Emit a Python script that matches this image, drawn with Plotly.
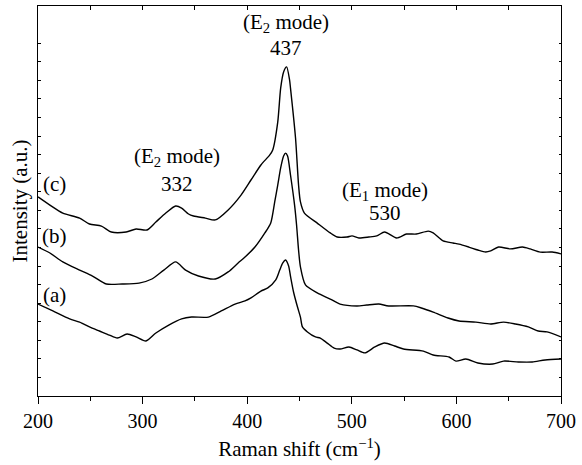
import plotly.graph_objects as go

# Raman shift (cm^-1) and intensity (a.u.) for the three spectra
shift_c = [200, 211.4, 223.7, 239.8, 249.2, 260.6, 270.1, 284.3, 293.8, 304.2, 312.7, 322.2,
           331.6, 337.3, 343.9, 348.7, 360.0, 369.5, 381.8, 394.1, 403.6, 413.1, 421.6, 424.4,
           429.2, 432.0, 434.8, 437.7, 440.5, 441.4, 446.2, 449.1, 450.9, 454.7, 467.0, 479.4,
           486.0, 495.5, 500.2, 506.8, 516.3, 523.9, 531.4, 542.8, 552.3, 561.7, 573.1, 577.8,
           587.3, 596.8, 602.5, 611.9, 620.5, 628.0, 632.8, 640.3, 651.7, 663.1, 670.6, 680.1,
           691.5, 700]
int_c = [10.72, 10.28, 9.85, 9.58, 9.26, 9.15, 8.83, 8.83, 8.99, 8.94, 9.37, 9.85,
         10.23, 10.12, 9.80, 9.69, 9.58, 9.48, 10.02, 10.82, 11.63, 12.44, 12.98, 13.25,
         14.75, 16.58, 17.45, 17.72, 17.02, 16.58, 13.89, 11.36, 10.45, 9.85, 9.31, 8.78,
         8.56, 8.56, 8.62, 8.51, 8.56, 8.62, 8.83, 8.51, 8.72, 8.72, 8.88, 8.78,
         8.35, 8.24, 8.18, 8.02, 7.86, 7.75, 7.81, 8.02, 7.92, 8.02, 7.92, 7.75,
         7.75, 7.65]

shift_b = [200, 211.4, 223.7, 239.8, 252.1, 265.3, 280.5, 296.6, 308.9, 320.3, 331.6, 341.1,
           353.4, 369.5, 381.8, 391.3, 397.9, 407.4, 416.9, 422.5, 426.3, 429.2, 432.0, 434.8,
           436.7, 438.6, 441.4, 445.3, 447.2, 449.1, 450.9, 455.7, 467.0, 479.4, 488.8, 504.9,
           514.4, 525.8, 535.2, 558.9, 566.5, 577.8, 592.0, 602.5, 618.6, 632.8, 645.1, 656.4,
           668.8, 678.2, 686.7, 700]
int_b = [8.02, 7.70, 7.22, 6.78, 6.46, 6.03, 6.03, 6.08, 6.30, 6.78, 7.22, 6.78,
         6.46, 6.30, 6.68, 7.16, 7.48, 8.02, 8.78, 9.32, 10.45, 11.36, 12.28, 12.92,
         13.08, 12.92, 11.90, 10.28, 9.21, 7.86, 6.95, 5.98, 5.55, 5.22, 4.95, 4.85,
         4.90, 4.95, 4.85, 4.85, 4.74, 4.52, 4.20, 4.04, 3.98, 3.88, 3.98, 3.88,
         3.72, 3.50, 3.45, 3.18]

shift_a = [200, 214.2, 230.3, 239.8, 249.2, 258.7, 268.2, 275.8, 285.2, 293.8, 303.2, 312.7,
           325.0, 337.3, 346.8, 362.9, 375.2, 388.4, 397.9, 403.6, 413.1, 419.7, 427.3, 431.1,
           433.9, 436.7, 439.6, 441.5, 444.3, 448.1, 450.9, 452.8, 457.6, 465.2, 469.9, 476.5,
           483.1, 488.8, 497.3, 504.9, 512.5, 522.0, 531.4, 540.9, 549.4, 568.4, 577.8, 593.0,
           599.6, 609.1, 620.5, 634.7, 645.1, 659.3, 672.5, 684.8, 700]
int_a = [4.95, 4.58, 4.15, 3.98, 3.72, 3.50, 3.28, 3.12, 3.34, 3.18, 2.96, 3.39,
         3.82, 4.15, 4.25, 4.25, 4.58, 4.95, 5.12, 5.28, 5.65, 5.82, 6.25, 6.78,
         7.16, 7.32, 7.00, 6.41, 5.60, 4.79, 4.25, 3.72, 3.45, 3.18, 3.12, 2.85,
         2.58, 2.53, 2.64, 2.48, 2.32, 2.64, 2.85, 2.69, 2.53, 2.42, 2.21, 2.10,
         1.88, 1.99, 1.78, 1.72, 1.88, 1.83, 1.83, 1.94, 1.99]

x_ticks = [200, 300, 400, 500, 600, 700]
y_ticks = list(range(1, 20))

FONT = "Liberation Serif"
FS_TICK = 20
FS_ANNO = 21
FS_TITLE = 21

fig = go.Figure()
for xs, ys in [(shift_c, int_c), (shift_b, int_b), (shift_a, int_a)]:
    fig.add_trace(go.Scatter(x=xs, y=ys, mode="lines",
                             line=dict(color="black", width=1.4, shape="spline", smoothing=0.7),
                             showlegend=False, hoverinfo="skip"))
# dummy trace to carry the mirrored top/right axes
fig.add_trace(go.Scatter(x=[200, 700], y=[None, None], xaxis="x2", yaxis="y2",
                         mode="lines", showlegend=False, hoverinfo="skip"))

annos = [
    ("(E<sub>2</sub> mode)", 437, 20.08),
    ("437", 437, 18.74),
    ("(E<sub>2</sub> mode)", 332.6, 12.87),
    ("332", 332.6, 11.42),
    ("(E<sub>1</sub> mode)", 531.4, 11.04),
    ("530", 531.4, 9.85),
    ("(c)", 216, 11.4),
    ("(b)", 216, 8.6),
    ("(a)", 216, 5.45),
]
for text, ax_, ay_ in annos:
    fig.add_annotation(x=ax_, y=ay_, xref="x", yref="y", text=text, showarrow=False,
                       font=dict(family=FONT, size=FS_ANNO, color="black"))

fig.update_layout(
    width=582, height=465,
    margin=dict(l=38, r=16, t=6, b=69),
    paper_bgcolor="white", plot_bgcolor="white",
    font=dict(family=FONT, size=FS_TICK, color="black"),
    xaxis=dict(range=[200, 700], tickvals=x_ticks, ticks="outside", ticklen=7, tickwidth=1.2,
               tickcolor="black", showline=True, linecolor="black", linewidth=1.4,
               showgrid=False, zeroline=False, tickfont=dict(family=FONT, size=FS_TICK),
               minor=dict(dtick=50, tick0=200, ticks="outside", ticklen=4, tickcolor="black", showgrid=False),
               title=dict(text="Raman shift (cm<sup>\u22121</sup>)", standoff=10,
                          font=dict(family=FONT, size=FS_TITLE))),
    yaxis=dict(range=[0, 21], tickvals=y_ticks, ticks="inside", ticklen=3, tickcolor="black",
               showticklabels=False, showline=True, linecolor="black", linewidth=1.4,
               showgrid=False, zeroline=False,
               title=dict(text="Intensity (a.u.)", standoff=3, font=dict(family=FONT, size=FS_TITLE))),
    xaxis2=dict(range=[200, 700], overlaying="x", side="top", dtick=50, tick0=200,
                ticks="inside", ticklen=4, tickcolor="black", showticklabels=False,
                showline=True, linecolor="black", linewidth=1.4, showgrid=False, zeroline=False),
    yaxis2=dict(range=[0, 21], overlaying="y", side="right", tickvals=y_ticks,
                ticks="inside", ticklen=2, tickcolor="black", showticklabels=False,
                showline=True, linecolor="black", linewidth=1.4, showgrid=False, zeroline=False),
)

fig.write_html("out.html")
